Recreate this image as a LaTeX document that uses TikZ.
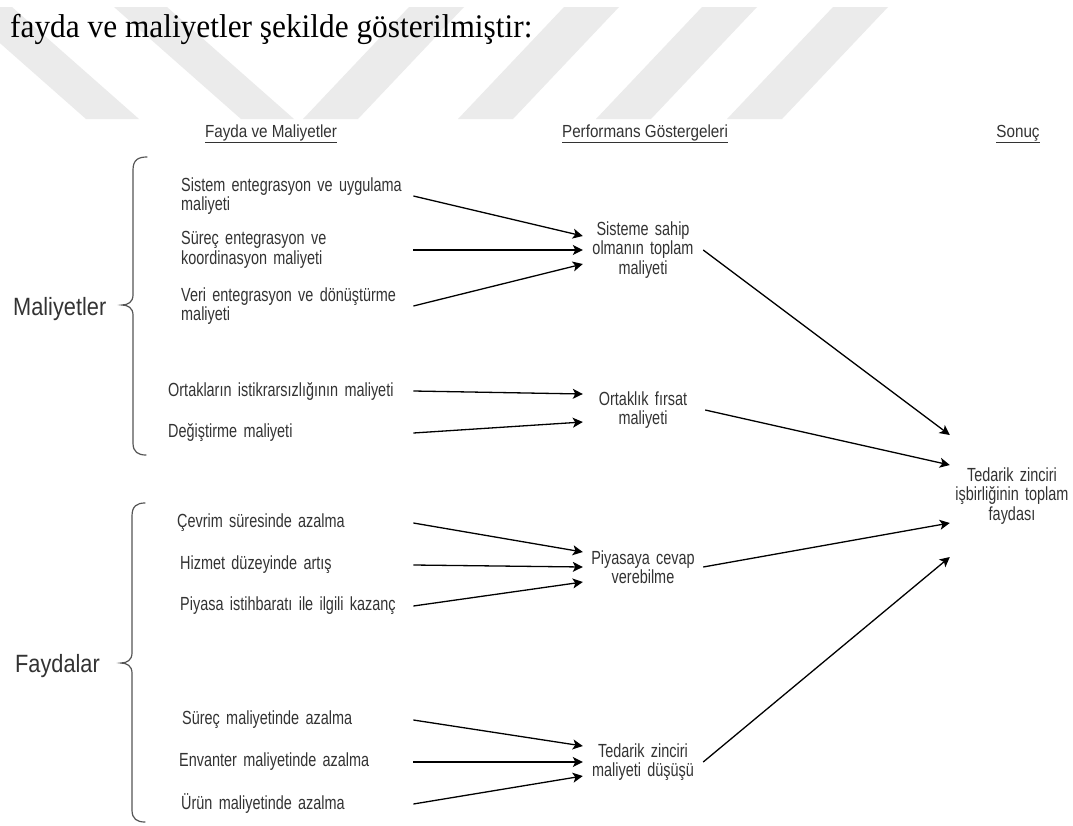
\documentclass[tikz,border=0pt]{standalone}
\usepackage{fontspec}
\setmainfont{Liberation Serif}
\newfontfamily\titlefont[FakeStretch=0.95]{Liberation Serif}
\newfontfamily\lblfont[FakeStretch=0.76]{Liberation Sans}
\newfontfamily\bigfont[FakeStretch=0.87]{Liberation Sans}
\usetikzlibrary{arrows.meta}
\definecolor{txt}{HTML}{333333}
\definecolor{wm}{HTML}{EBEBEB}
\definecolor{bracec}{HTML}{555555}
% narrow faces: interword space scaled like the glyphs
\newcommand\lblsize{\lblfont\fontsize{19}{19.5}\selectfont\fontdimen2\font=4pt\relax}
\newcommand\headsize{\bigfont\fontsize{17.5}{20}\selectfont\fontdimen2\font=4.2pt\relax}
\newcommand\titlesize{\titlefont\fontsize{33}{38}\selectfont\fontdimen2\font=7.8pt\relax}
\begin{document}
\begin{tikzpicture}[x=1pt,y=-1pt,
  lbl/.style={font=\lblsize, text=txt, inner sep=0pt},
  head/.style={font=\headsize, text=txt, inner sep=0pt},
  item/.style={lbl, anchor=west, align=left},
  metric/.style={lbl, align=center, text width=120pt},
  big/.style={font=\bigfont\fontsize{25}{30}\selectfont, text=txt, inner sep=0pt, anchor=base west},
  link/.style={line width=1.3pt, -{Stealth[length=10pt,width=10pt,inset=2.5pt]}},
  brace/.style={line width=1.2pt, draw=bracec, line cap=round}
]
% page
\fill[white] (0,0) rectangle (1073,825);
\useasboundingbox (0,0) rectangle (1073,825);

% faint stripes behind the heading
\foreach \t/\d in {-41/127,114/127}
  \fill[wm] (\t,7) -- (\t+53,7) -- (\t+53+\d,119) -- (\t+\d,119) -- cycle;
\foreach \t in {409,564,702,833}
  \fill[wm] (\t,7) -- (\t+55,7) -- (\t+55-106,119) -- (\t-106,119) -- cycle;

% running text line
\node[anchor=base west, inner sep=0pt, font=\titlesize] (title) at (10,37)
  {fayda ve maliyetler şekilde gösterilmiştir:};

% column headings
\node[head] (h1) at (271,134) {\underline{Fayda ve Maliyetler}};
\node[head] (h2) at (645,134) {\underline{Performans Göstergeleri}};
\node[head] (h3) at (1018,134) {\underline{Sonuç}};

% group labels and braces
\node[big] (cost) at (13,315) {Maliyetler};
\node[big] (gain) at (15,672) {Faydalar};

\draw[brace] (147,157) .. controls (138,157) and (133,160) .. (133,170) -- (133,295)
  .. controls (133,302) and (128,305) .. (122,305)
  .. controls (128,305) and (133,308) .. (133,315) -- (133,443)
  .. controls (133,452) and (138,455) .. (146,455);
\draw[brace] (145,503) .. controls (137,503) and (132,506) .. (132,516) -- (132,653)
  .. controls (132,660) and (127,663) .. (121,663)
  .. controls (127,663) and (132,666) .. (132,673) -- (132,810)
  .. controls (132,819) and (137,822) .. (145,822);

% cost items
\node[item, text width=232pt] (c1) at (181,196) {Sistem entegrasyon ve uygulama\\maliyeti};
\node[item, text width=232pt] (c2) at (181,250) {Süreç entegrasyon ve\\koordinasyon maliyeti};
\node[item, text width=232pt] (c3) at (181,306) {Veri entegrasyon ve dönüştürme\\maliyeti};
\node[item, text width=245pt] (c4) at (168,391) {Ortakların istikrarsızlığının maliyeti};
\node[item, text width=245pt] (c5) at (168,433) {Değiştirme maliyeti};

% benefit items
\node[item, text width=236pt] (b1) at (177,523) {Çevrim süresinde azalma};
\node[item, text width=233pt] (b2) at (180,565) {Hizmet düzeyinde artış};
\node[item, text width=233pt] (b3) at (180,606) {Piyasa istihbaratı ile ilgili kazanç};
\node[item, text width=231pt] (b4) at (182,720) {Süreç maliyetinde azalma};
\node[item, text width=234pt] (b5) at (179,762) {Envanter maliyetinde azalma};
\node[item, text width=232pt] (b6) at (181,804) {Ürün maliyetinde azalma};

% performance indicators
\node[metric] (m1) at (643,250) {Sisteme sahip\\olmanın toplam\\maliyeti};
\node[metric] (m2) at (643,410) {Ortaklık fırsat\\maliyeti};
\node[metric] (m3) at (643,567) {Piyasaya cevap\\verebilme};
\node[metric] (m4) at (643,762) {Tedarik zinciri\\maliyeti düşüşü};

% result
\node[lbl, align=center, text width=124pt] (r) at (1012,496) {Tedarik zinciri\\işbirliğinin toplam\\faydası};

% items to indicators
\draw[link] (c1.east) -- ([yshift=14pt]m1.west);
\draw[link] (c2.east) -- (m1.west);
\draw[link] (c3.east) -- ([yshift=-14pt]m1.west);
\draw[link] (c4.east) -- ([yshift=16pt]m2.west);
\draw[link] (c5.east) -- ([yshift=-12pt]m2.west);
\draw[link] (b1.east) -- ([yshift=15pt]m3.west);
\draw[link] (b2.east) -- (m3.west);
\draw[link] (b3.east) -- ([yshift=-15pt]m3.west);
\draw[link] (b4.east) -- ([yshift=16pt]m4.west);
\draw[link] (b5.east) -- (m4.west);
\draw[link] (b6.east) -- ([yshift=-14pt]m4.west);

% indicators to result
\draw[link] (m1.east) -- ([yshift=61pt]r.west);
\draw[link] ([xshift=2pt]m2.east) -- ([yshift=31pt]r.west);
\draw[link] (m3.east) -- ([yshift=-27pt]r.west);
\draw[link] (m4.east) -- ([yshift=-61pt]r.west);
\end{tikzpicture}
\end{document}
